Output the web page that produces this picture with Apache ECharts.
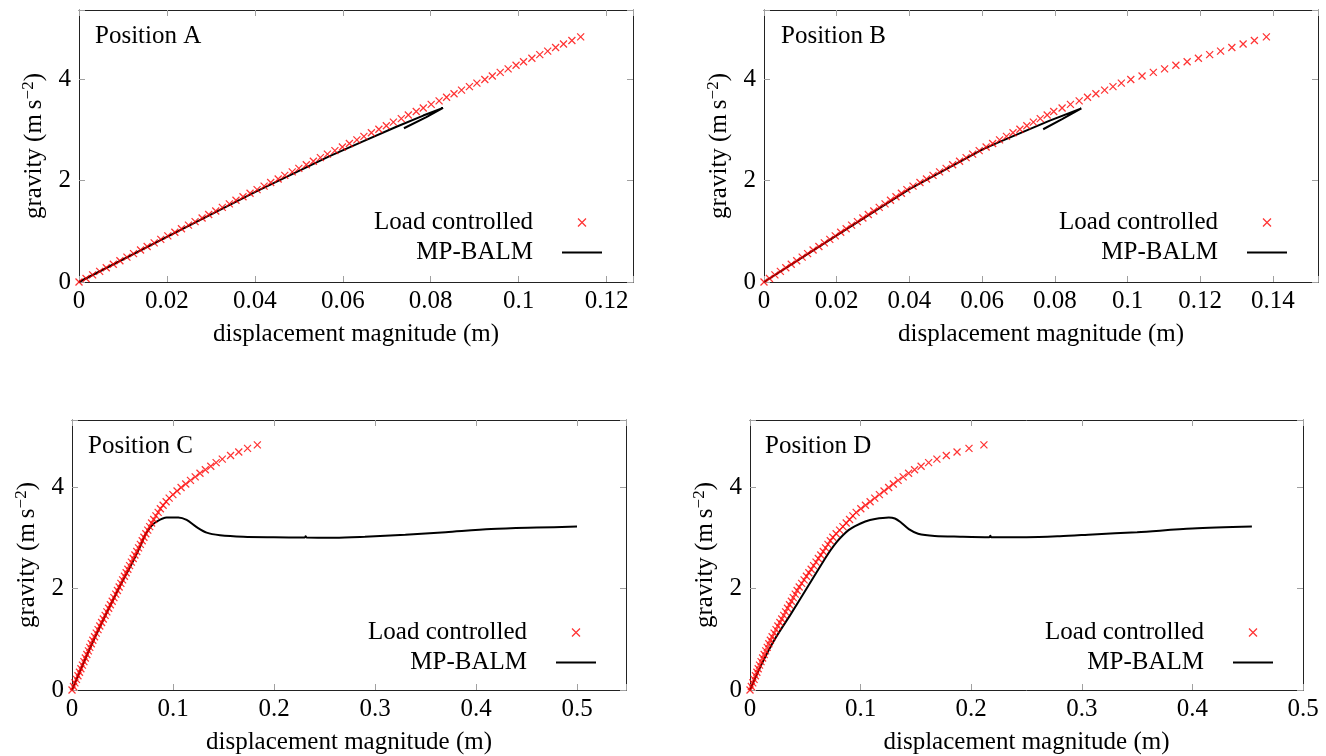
<!DOCTYPE html>
<html>
<head>
<meta charset="utf-8">
<script src="https://cdn.jsdelivr.net/npm/echarts@6/dist/echarts.min.js"></script>
<style>
html,body{margin:0;padding:0;background:#fff;}
#chart{width:1326px;height:756px;}
</style>
</head>
<body>
<div id="chart"></div>
<script>
// ---------------- DATA ----------------
const seriesNames = ['Load controlled', 'MP-BALM'];
const panelTitles = ['Position A', 'Position B', 'Position C', 'Position D'];
const xAxisTitle = 'displacement magnitude (m)';

// tick labels
const xTicksA = [0, 0.02, 0.04, 0.06, 0.08, 0.1, 0.12];
const xTicksB = [0, 0.02, 0.04, 0.06, 0.08, 0.1, 0.12, 0.14];
const xTicksC = [0, 0.1, 0.2, 0.3, 0.4, 0.5];
const xTicksD = [0, 0.1, 0.2, 0.3, 0.4, 0.5];
const yTicks = [0, 2, 4];

// gravity levels of the load-controlled steps (m s^-2)
const gLoad = [0,0.07,0.14,0.21,0.28,0.35,0.42,0.49,0.56,0.63,
  0.70,0.77,0.84,0.91,0.98,1.05,1.12,1.19,1.26,1.33,
  1.40,1.47,1.54,1.61,1.68,1.75,1.82,1.89,1.96,2.03,
  2.10,2.17,2.24,2.31,2.38,2.45,2.52,2.59,2.66,2.73,
  2.80,2.87,2.94,3.01,3.08,3.15,3.22,3.29,3.36,3.43,
  3.50,3.57,3.64,3.71,3.78,3.85,3.92,3.99,4.06,4.13,
  4.20,4.27,4.34,4.41,4.48,4.55,4.62,4.69,4.76,4.83];

// displacement of load-controlled steps (m)
const xLoadA = [0,.0016,.0031,.0047,.0062,.0078,.0093,.0109,.0124,.0140,
  .0155,.0171,.0186,.0202,.0218,.0233,.0249,.0264,.0280,.0295,
  .0311,.0326,.0342,.0357,.0373,.0389,.0405,.0421,.0436,.0453,
  .0468,.0485,.0500,.0517,.0533,.0549,.0565,.0582,.0599,.0615,
  .0632,.0648,.0665,.0682,.0699,.0715,.0733,.0749,.0767,.0783,
  .0801,.0819,.0836,.0853,.0870,.0888,.0905,.0923,.0940,.0958,
  .0976,.0994,.1011,.1030,.1048,.1066,.1084,.1102,.1121,.1141];
const xLoadB = [0,.0015,.0030,.0045,.0060,.0075,.0090,.0105,.0120,.0135,
  .0151,.0166,.0181,.0196,.0211,.0226,.0241,.0257,.0272,.0287,
  .0302,.0317,.0333,.0348,.0363,.0378,.0393,.0410,.0429,.0447,
  .0465,.0483,.0501,.0519,.0538,.0556,.0574,.0592,.0611,.0629,
  .0648,.0667,.0685,.0704,.0723,.0741,.0760,.0779,.0797,.0820,
  .0843,.0867,.0890,.0913,.0937,.0960,.0983,.1009,.1040,.1071,
  .1102,.1133,.1164,.1195,.1226,.1256,.1287,.1318,.1349,.1382];
const xLoadC = [0,.0015,.0029,.0044,.0059,.0074,.0088,.0103,.0118,.0132,
  .0147,.0162,.0176,.0191,.0206,.0223,.0240,.0258,.0275,.0293,
  .0310,.0328,.0345,.0363,.0380,.0398,.0415,.0433,.0450,.0467,
  .0484,.0501,.0519,.0536,.0553,.0570,.0588,.0606,.0623,.0641,
  .0659,.0677,.0695,.0712,.0731,.0750,.0769,.0788,.0809,.0831,
  .0853,.0875,.0902,.0932,.0962,.0999,.1040,.1080,.1126,.1173,
  .1220,.1267,.1320,.1374,.1427,.1488,.1570,.1651,.1738,.1835];
const xLoadD = [0,.0012,.0025,.0037,.0049,.0062,.0074,.0086,.0100,.0114,
  .0128,.0142,.0156,.0170,.0184,.0200,.0218,.0235,.0252,.0270,
  .0287,.0305,.0322,.0339,.0357,.0374,.0391,.0409,.0426,.0445,
  .0467,.0489,.0510,.0532,.0553,.0575,.0597,.0618,.0640,.0662,
  .0683,.0705,.0726,.0749,.0779,.0810,.0840,.0870,.0900,.0930,
  .0960,.1002,.1044,.1086,.1128,.1170,.1212,.1254,.1296,.1339,
  .1385,.1434,.1488,.1547,.1615,.1690,.1775,.1872,.1980,.2115];

// MP-BALM path (displacement, gravity)
const balmAx = [0,0.02,0.04,0.057,0.0646,0.0722,0.0783,0.0828,0.0790,0.0739];
const balmAg = [0,0.89,1.77,2.48,2.77,3.06,3.28,3.43,3.25,3.03];
const balmBx = [0,0.02,0.04,0.06,0.0648,0.0786,0.0873,0.0820,0.0768];
const balmBg = [0,0.92,1.83,2.61,2.76,3.18,3.42,3.21,3.01];
const balmCx = [0,0.02,0.045,0.06,0.068,0.0723,0.078,0.0838,0.0937,0.1053,0.1135,0.1234,0.1333,0.1465,0.1696,0.20,0.2305,0.2313,0.2322,0.26,0.29,0.33,0.37,0.415,0.46,0.5];
const balmCg = [0,0.92,1.95,2.52,2.85,3.05,3.22,3.32,3.40,3.40,3.35,3.21,3.10,3.05,3.02,3.01,3.005,3.03,3.005,3.0,3.02,3.06,3.11,3.17,3.20,3.22];
const balmDx = [0,0.0103,0.0224,0.037,0.0512,0.0679,0.073,0.0785,0.084,0.0891,0.095,0.1042,0.113,0.1255,0.131,0.136,0.1436,0.152,0.167,0.19,0.2165,0.2173,0.2181,0.25,0.28,0.31,0.35,0.40,0.4538];
const balmDg = [0,0.5,1.0,1.5,2.0,2.59,2.76,2.92,3.05,3.15,3.23,3.32,3.37,3.40,3.38,3.31,3.17,3.08,3.035,3.02,3.01,3.04,3.01,3.01,3.03,3.065,3.11,3.18,3.22];

// ---------------- LAYOUT / STYLE ----------------
const FONT = 'Liberation Serif';
const FS = 25;
const zip = (xs, ys) => xs.map((x, i) => [x, ys[i]]);

const panels = [
  { title: panelTitles[0], xTicks: xTicksA, xInt: 0.02, xMax: 0.126, yMax: 5.36, xl: xLoadA, bx: balmAx, bg: balmAg,
    grid: { left: 79, top: 10, width: 554, height: 272 }, tl: 90, tt: 18, lr: 719, lt: 205, smooth: false },
  { title: panelTitles[1], xTicks: xTicksB, xInt: 0.02, xMax: 0.1524, yMax: 5.36, xl: xLoadB, bx: balmBx, bg: balmBg,
    grid: { left: 764, top: 10, width: 554, height: 272 }, tl: 776, tt: 18, lr: 34, lt: 205, smooth: false },
  { title: panelTitles[2], xTicks: xTicksC, xInt: 0.1, xMax: 0.5485, yMax: 5.32, xl: xLoadC, bx: balmCx, bg: balmCg,
    grid: { left: 72, top: 420, width: 554, height: 270 }, tl: 83, tt: 428, lr: 725, lt: 615, smooth: 0.3 },
  { title: panelTitles[3], xTicks: xTicksD, xInt: 0.1, xMax: 0.5, yMax: 5.32, xl: xLoadD, bx: balmDx, bg: balmDg,
    grid: { left: 750, top: 420, width: 553, height: 270 }, tl: 760, tt: 428, lr: 48, lt: 615, smooth: 0.3 }
];

const fmtNum = v => String(+(+v).toFixed(4));
const inList = (list, v) => list.some(t => Math.abs(t - v) < 1e-9);
const frameColor = '#222';
const tickColor = '#a0a0a0';

const grids = [], xAxes = [], yAxes = [], series = [], titles = [], legends = [];

panels.forEach((p, i) => {
  grids.push(Object.assign({ containLabel: false }, p.grid));
  const common = { type: 'value', gridIndex: i, min: 0, splitLine: { show: false } };
  xAxes.push(Object.assign({}, common, {
    position: 'bottom', max: p.xMax, interval: p.xInt,
    axisLine: { show: true, onZero: false, lineStyle: { color: frameColor, width: 1 } },
    axisTick: { show: true, inside: true, length: 6, lineStyle: { color: tickColor } },
    axisLabel: { show: true, margin: 7, color: '#000', fontFamily: FONT, fontSize: FS,
      formatter: v => inList(p.xTicks, v) ? fmtNum(v) : '' },
    name: xAxisTitle, nameLocation: 'middle', nameGap: 40,
    nameTextStyle: { color: '#000', fontFamily: FONT, fontSize: FS }
  }));
  xAxes.push(Object.assign({}, common, {
    position: 'top', max: p.xMax, interval: p.xInt,
    axisLine: { show: true, onZero: false, lineStyle: { color: frameColor, width: 1 } },
    axisTick: { show: true, inside: true, length: 6, lineStyle: { color: tickColor } },
    axisLabel: { show: false }
  }));
  yAxes.push(Object.assign({}, common, {
    position: 'left', max: p.yMax, interval: 2,
    axisLine: { show: true, onZero: false, lineStyle: { color: frameColor, width: 1 } },
    axisTick: { show: true, inside: true, length: 6, lineStyle: { color: tickColor } },
    axisLabel: { show: true, margin: 8, color: '#000', fontFamily: FONT, fontSize: FS,
      formatter: v => inList(yTicks, v) ? fmtNum(v) : '' },
    name: '{n|gravity (m\u2009s}{s|\u22122}{n|)}', nameLocation: 'middle', nameGap: 31, nameRotate: 90,
    nameTextStyle: { color: '#000', fontFamily: FONT, fontSize: FS,
      rich: { n: { fontFamily: FONT, fontSize: FS, lineHeight: 28, color: '#000', verticalAlign: 'middle' },
              s: { fontFamily: FONT, fontSize: 17, lineHeight: 17, color: '#000', verticalAlign: 'top' } } }
  }));
  yAxes.push(Object.assign({}, common, {
    position: 'right', max: p.yMax, interval: 2,
    axisLine: { show: true, onZero: false, lineStyle: { color: frameColor, width: 1 } },
    axisTick: { show: true, inside: true, length: 6, lineStyle: { color: tickColor } },
    axisLabel: { show: false }
  }));

  series.push({
    name: seriesNames[1], type: 'line', xAxisIndex: 2 * i, yAxisIndex: 2 * i,
    data: zip(p.bx, p.bg), symbol: 'none', smooth: p.smooth,
    lineStyle: { color: '#000', width: 2 }, itemStyle: { color: '#000' }, z: 2
  });
  series.push({
    name: seriesNames[0], type: 'scatter', xAxisIndex: 2 * i, yAxisIndex: 2 * i,
    data: zip(p.xl, gLoad),
    symbol: 'path://M0,0L10,10M10,0L0,10', symbolSize: 7, symbolKeepAspect: true,
    itemStyle: { color: 'rgba(0,0,0,0)', borderColor: '#ff0000', borderWidth: 1.25 }, z: 3
  });

  titles.push({ text: p.title, left: p.tl, top: p.tt,
    textStyle: { color: '#000', fontFamily: FONT, fontSize: FS, fontWeight: 'normal', lineHeight: 26 } });

  legends.push({
    orient: 'vertical', align: 'right', right: p.lr, top: p.lt, padding: 5,
    itemWidth: 40, itemHeight: 8, itemGap: 5, selectedMode: false,
    data: [
      { name: seriesNames[0] },
      { name: seriesNames[1], icon: 'path://M0,0L40,0L40,2L0,2Z', itemStyle: { color: '#000', borderWidth: 0 } }
    ],
    formatter: n => '{t|' + n + '}',
    itemStyle: { borderWidth: 1.25 },
    textStyle: { color: '#000', fontFamily: FONT, fontSize: FS,
      rich: { t: { fontFamily: FONT, fontSize: FS, lineHeight: 23, color: '#000', padding: [0, 24, 0, 0] } } }
  });
});

const chart = echarts.init(document.getElementById('chart'), null, { renderer: 'canvas' });
chart.setOption({
  animation: false,
  backgroundColor: '#fff',
  title: titles,
  legend: legends,
  grid: grids,
  xAxis: xAxes,
  yAxis: yAxes,
  series: series
});
</script>
</body>
</html>
